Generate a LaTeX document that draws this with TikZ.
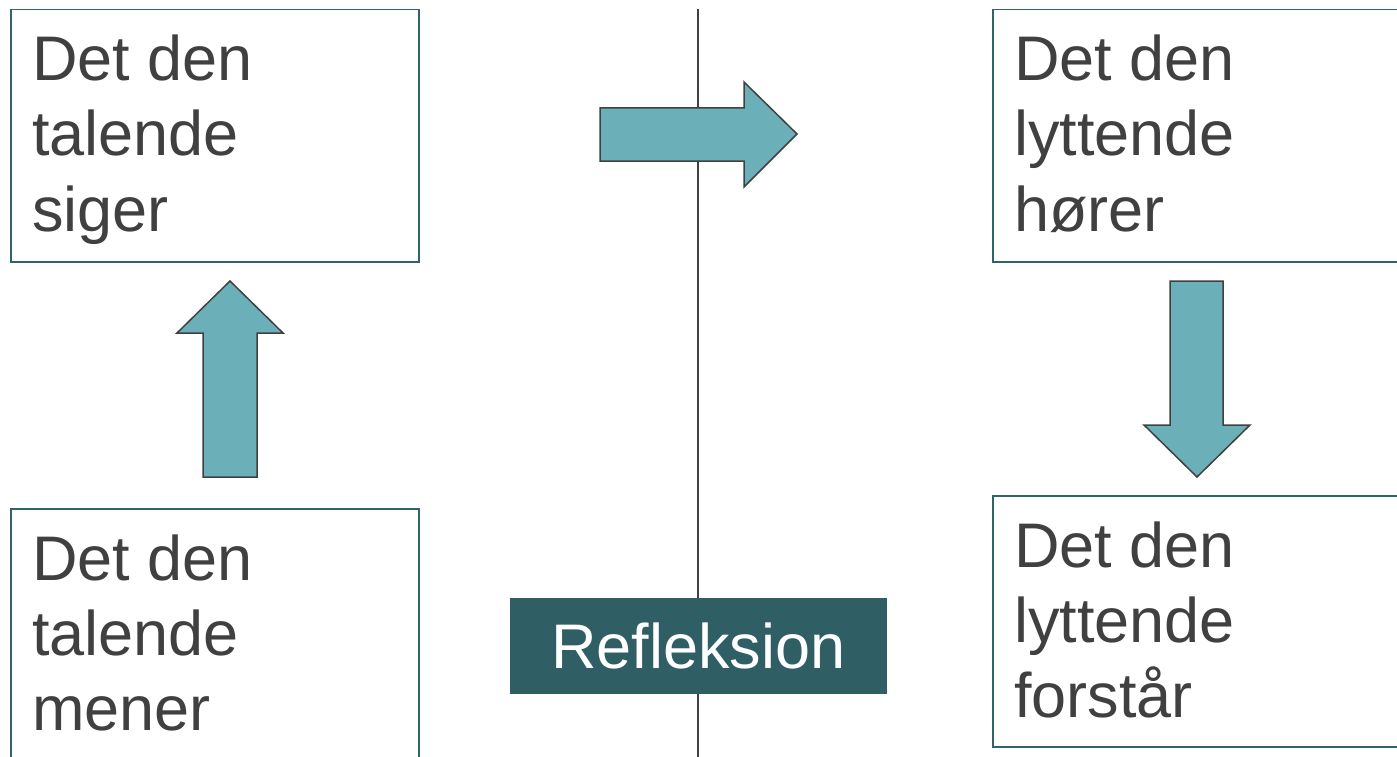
\documentclass[tikz,border=0pt]{standalone}
\usepackage{fontspec}
\setmainfont{Liberation Sans}
\definecolor{boxline}{HTML}{31636A}
\definecolor{reflfill}{HTML}{2F5F65}
\definecolor{arrowfill}{HTML}{6BB0B8}
\definecolor{inkgray}{HTML}{404040}
\begin{document}
\begin{tikzpicture}[x=1pt,y=-1pt,
  textbox/.style={draw=boxline,line width=1.5pt,fill=white,inner sep=0pt,anchor=north west},
  line/.style={font=\fontsize{63}{75}\selectfont,text=inkgray,inner sep=0pt,anchor=base west},
  blockarrow/.style={fill=arrowfill,draw=inkgray,line width=1.5pt,line join=miter},
  divider/.style={draw=inkgray,line width=1.5pt}]
\useasboundingbox (0,0) rectangle (1397,757);
\clip (0,0) rectangle (1397,757);

% dividing line between speaker and listener
\coordinate (dtop) at (698,9);
\coordinate (dbot) at (698,770);
\draw[divider] (dtop) -- (dbot);

% speaker side
\node[textbox,minimum width=408pt,minimum height=252pt] (says) at (10,9) {};
\node[line] (s1) at (32,81) {Det den};
\node[line] (s2) at (32,156) {talende};
\node[line] (s3) at (32,231) {siger};

\node[textbox,minimum width=408pt,minimum height=300pt] (means) at (10,508) {};
\node[line] (m1) at (32,580) {Det den};
\node[line] (m2) at (32,655) {talende};
\node[line] (m3) at (32,730) {mener};

% listener side
\node[textbox,minimum width=450pt,minimum height=252pt] (hears) at (992,9) {};
\node[line] (h1) at (1014,81) {Det den};
\node[line] (h2) at (1014,156) {lyttende};
\node[line] (h3) at (1014,231) {hører};

\node[textbox,minimum width=450pt,minimum height=251pt] (grasps) at (992,495) {};
\node[line] (g1) at (1014,567) {Det den};
\node[line] (g2) at (1014,642) {lyttende};
\node[line] (g3) at (1014,717) {forstår};

% block arrows
\draw[blockarrow] (203,477) -- (203,333) -- (177,333) -- (230,281) -- (283,333)
  -- (257,333) -- (257,477) -- cycle;
\draw[blockarrow] (600,108) -- (744,108) -- (744,82) -- (797,134) -- (744,187)
  -- (744,161) -- (600,161) -- cycle;
\draw[blockarrow] (1170,281) -- (1223,281) -- (1223,425) -- (1250,425) -- (1197,477)
  -- (1144,425) -- (1170,425) -- cycle;

% reflection label
\node[fill=reflfill,minimum width=377pt,minimum height=96pt,inner sep=0pt,
  text=white,font=\fontsize{63}{75}\selectfont] (refl) at (698.5,646) {Refleksion};
\end{tikzpicture}
\end{document}
